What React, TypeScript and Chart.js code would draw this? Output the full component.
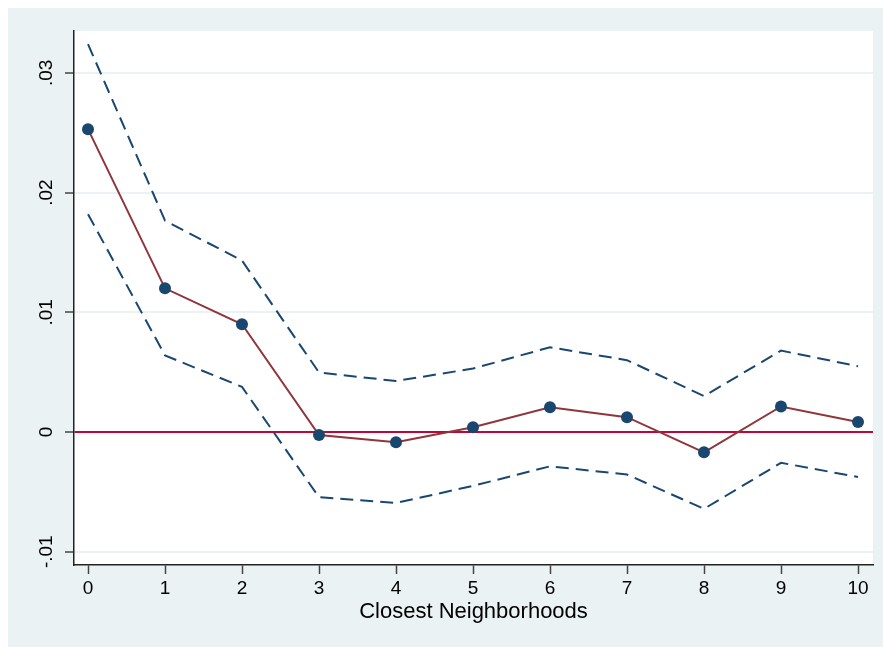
import React, { useEffect, useRef } from 'react';
import { Chart, registerables } from 'chart.js';

Chart.register(...registerables);

const xValues = [0, 1, 2, 3, 4, 5, 6, 7, 8, 9, 10];
const estimate = [0.0253, 0.012, 0.009, -0.00025, -0.00085, 0.0004, 0.00207, 0.00124, -0.0017, 0.00213, 0.00084];
const upperCI = [0.0324, 0.01766, 0.01432, 0.00497, 0.00426, 0.0053, 0.00708, 0.006, 0.003, 0.0068, 0.00549];
const lowerCI = [0.0182, 0.0064, 0.00377, -0.00545, -0.00593, -0.0045, -0.00287, -0.00355, -0.00642, -0.00257, -0.00376];

const yTickValues = [-0.01, 0, 0.01, 0.02, 0.03];
const yTickLabels = ['-.01', '0', '.01', '.02', '.03'];
const xTickValues = [0, 1, 2, 3, 4, 5, 6, 7, 8, 9, 10];
const xTitle = 'Closest Neighborhoods';

const NAVY = '#1A476F';
const MAROON = '#90353B';
const RED = '#C10534';
const BG = '#EAF2F3';
const FONT = '"Liberation Sans", Arial, sans-serif';

export default function App() {
  const ref = useRef<HTMLCanvasElement | null>(null);

  useEffect(() => {
    document.body.style.margin = '0';
    document.documentElement.style.overflow = 'hidden';
    const plotBg = {
      id: 'plotBg',
      beforeDraw(chart: any) {
        const { ctx, chartArea } = chart;
        ctx.save();
        ctx.fillStyle = '#ffffff';
        ctx.fillRect(chartArea.left, chartArea.top, chartArea.right - chartArea.left, chartArea.bottom - chartArea.top);
        ctx.restore();
      },
    };
    const chart = new Chart(ref.current as HTMLCanvasElement, {
      type: 'line',
      data: {
        datasets: [
          {
            label: 'upper',
            data: xValues.map((x, i) => ({ x, y: upperCI[i] })),
            borderColor: NAVY,
            borderWidth: 2,
            borderDash: [13, 7],
            pointRadius: 0,
            fill: false,
            tension: 0,
          },
          {
            label: 'lower',
            data: xValues.map((x, i) => ({ x, y: lowerCI[i] })),
            borderColor: NAVY,
            borderWidth: 2,
            borderDash: [13, 7],
            pointRadius: 0,
            fill: false,
            tension: 0,
          },
          {
            label: 'estimate',
            data: xValues.map((x, i) => ({ x, y: estimate[i] })),
            borderColor: MAROON,
            borderWidth: 2,
            pointRadius: 6,
            pointBackgroundColor: NAVY,
            pointBorderWidth: 0,
            fill: false,
            tension: 0,
          },
        ],
      },
      options: {
        responsive: false,
        animation: false,
        layout: { padding: { left: 0, top: 23, right: 10, bottom: 0 } },
        plugins: { legend: { display: false }, tooltip: { enabled: false } },
        scales: {
          x: {
            type: 'linear',
            min: -14 / 77,
            max: 10 + 15 / 77,
            afterBuildTicks: (s: any) => {
              s.ticks = xTickValues.map((v) => ({ value: v }));
            },
            afterFit: (s: any) => {
              s.height = 82;
            },
            grid: { drawOnChartArea: false, tickLength: 9, tickColor: '#444', tickWidth: 1.5 },
            border: { color: '#222', width: 1.5 },
            ticks: {
              color: '#000',
              font: { family: FONT, size: 19 },
              padding: 3,
              maxRotation: 0,
              minRotation: 0,
              autoSkip: false,
              callback: (v: any, i: number) => String(xTickValues[i]),
            },
            title: {
              display: true,
              text: xTitle,
              color: '#000',
              font: { family: FONT, size: 22 },
              padding: { top: 0, bottom: 22 },
            },
          },
          y: {
            type: 'linear',
            min: -0.01111,
            max: 0.0335,
            afterBuildTicks: (s: any) => {
              s.ticks = yTickValues.map((v) => ({ value: v }));
            },
            afterFit: (s: any) => {
              s.width = 66;
            },
            grid: {
              color: (ctx: any) => (ctx.tick && ctx.tick.value === 0 ? RED : BG),
              lineWidth: 2,
              tickLength: 9,
              tickColor: '#444',
              tickWidth: 1.5,
            },
            border: { color: '#222', width: 1.5 },
            ticks: {
              color: '#000',
              font: { family: FONT, size: 19 },
              padding: 2,
              minRotation: 90,
              maxRotation: 90,
              crossAlign: 'center',
              autoSkip: false,
              callback: (v: any, i: number) => yTickLabels[i],
            },
          },
        },
      },
      plugins: [plotBg],
    } as any);
    return () => chart.destroy();
  }, []);

  return (
    <div style={{ paddingLeft: 8, paddingTop: 8, width: 875, height: 639 }}>
      <div style={{ width: 875, height: 639, background: BG }}>
        <canvas ref={ref} width={875} height={639} style={{ display: 'block' }} />
      </div>
    </div>
  );
}
